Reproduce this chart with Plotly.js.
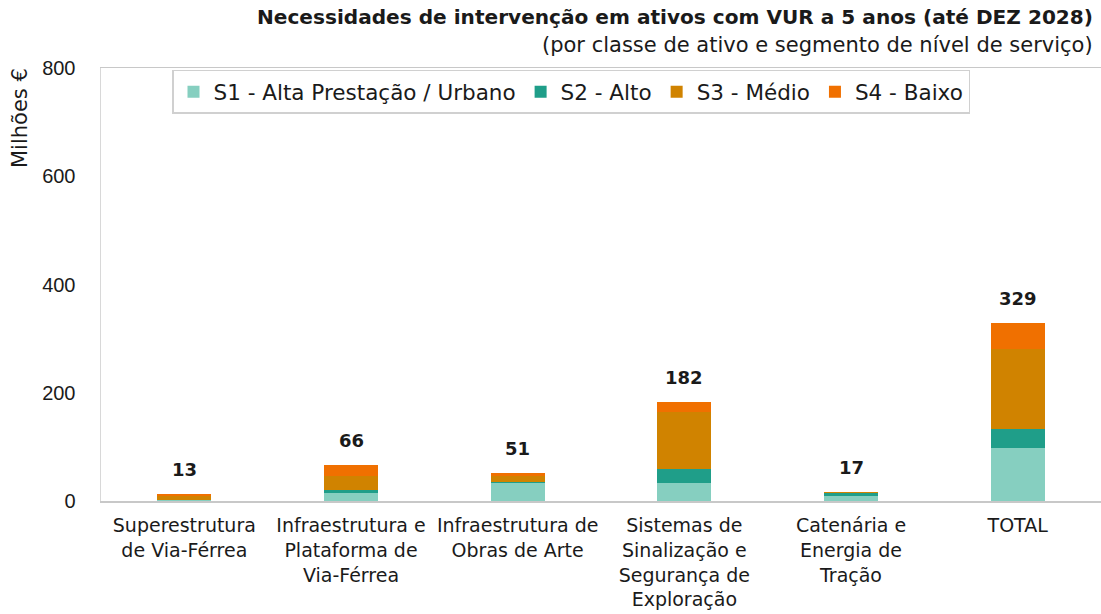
<!DOCTYPE html>
<html>
<head>
<meta charset="utf-8">
<script src="https://cdn.plot.ly/plotly-3.0.1.min.js"></script>
<style>html,body{margin:0;padding:0;background:#fff;}#chart{width:1101px;height:614px;}</style>
</head>
<body>
<div id="chart"></div>
<script>
const categories = [
  "Superestrutura<br>de Via-Férrea",
  "Infraestrutura e<br>Plataforma de<br>Via-Férrea",
  "Infraestrutura de<br>Obras de Arte",
  "Sistemas de<br>Sinalização e<br>Segurança de<br>Exploração",
  "Catenária e<br>Energia de<br>Tração",
  "TOTAL"
];
const seriesNames = ["S1 - Alta Prestação / Urbano", "S2 - Alto", "S3 - Médio", "S4 - Baixo"];
const s1 = [1, 15, 34, 34, 10, 98];
const s2 = [0, 5, 1, 26, 4, 35];
const s3 = [8, 26, 11, 104, 2, 148];
const s4 = [4, 20, 5, 18, 1, 48];
const totals = [13, 66, 51, 182, 17, 329];
const colors = ["#86cfc0", "#1f9e89", "#d08300", "#f07000"];

const series = [s1, s2, s3, s4];
const traces = series.map((vals, i) => ({
  type: "bar",
  name: seriesNames[i],
  x: categories,
  y: vals,
  marker: {color: colors[i], line: {width: 0}},
  hoverinfo: "x+y+name"
}));

const font = "DejaVu Sans, Arial, sans-serif";
const lib = "Liberation Sans, Arial, sans-serif";
const annotations = categories.map((c, i) => ({
  x: c, y: totals[i], xref: "x", yref: "y",
  text: "<b>" + totals[i] + "</b>", showarrow: false,
  yanchor: "bottom", yshift: 12,
  font: {family: font, size: 18, color: "#1a1a1a"}
}));
annotations.push({
  xref: "paper", yref: "paper", x: 0.9935, y: 1, xanchor: "right", yanchor: "bottom",
  yshift: 37, text: "<b>Necessidades de intervenção em ativos com VUR a 5 anos (até DEZ 2028)</b>",
  showarrow: false, font: {family: font, size: 20.1, color: "#1a1a1a"}
});
annotations.push({
  xref: "paper", yref: "paper", x: 0.9935, y: 1, xanchor: "right", yanchor: "bottom",
  yshift: 9, text: "(por classe de ativo e segmento de nível de serviço)",
  showarrow: false, font: {family: font, size: 21, color: "#1a1a1a"}
});
annotations.push({
  xref: "paper", yref: "paper", x: 0, y: 1, xanchor: "right", yanchor: "top",
  xshift: -67, yshift: 2, textangle: -90, text: "Milhões €",
  showarrow: false, font: {family: font, size: 21, color: "#1a1a1a"}
});

const layout = {
  width: 1101, height: 614,
  margin: {l: 101, r: 0, t: 68, b: 113},
  paper_bgcolor: "#fff", plot_bgcolor: "#fff",
  barmode: "stack", bargap: 0.675,
  font: {family: font, size: 18, color: "#1a1a1a"},
  showlegend: true,
  legend: {
    orientation: "h", x: 0.071, y: 0.996, xanchor: "left", yanchor: "top",
    bgcolor: "#fff", bordercolor: "#d0d0d0", borderwidth: 1.5,
    font: {family: font, size: 21.5, color: "#1a1a1a"},
    traceorder: "normal", itemwidth: 20, tracegroupgap: 0
  },
  xaxis: {
    type: "category", showgrid: false, zeroline: false,
    showline: true, linecolor: "#c8c8c8", linewidth: 1.5, mirror: true,
    ticks: "", tickfont: {family: font, size: 19, color: "#1a1a1a"},
    ticklabelstandoff: 7,
    fixedrange: true
  },
  yaxis: {
    range: [0, 800], tickvals: [0, 200, 400, 600, 800],
    showgrid: false, zeroline: false,
    showline: true, linecolor: "#d8d8d8", linewidth: 1.5, mirror: true,
    ticks: "", ticklen: 0, tickfont: {family: lib, size: 20, color: "#1a1a1a"},
    ticklabelstandoff: 20,
    fixedrange: true
  },
  annotations: annotations
};

Plotly.newPlot("chart", traces, layout, {displayModeBar: false, staticPlot: true});
</script>
</body>
</html>
